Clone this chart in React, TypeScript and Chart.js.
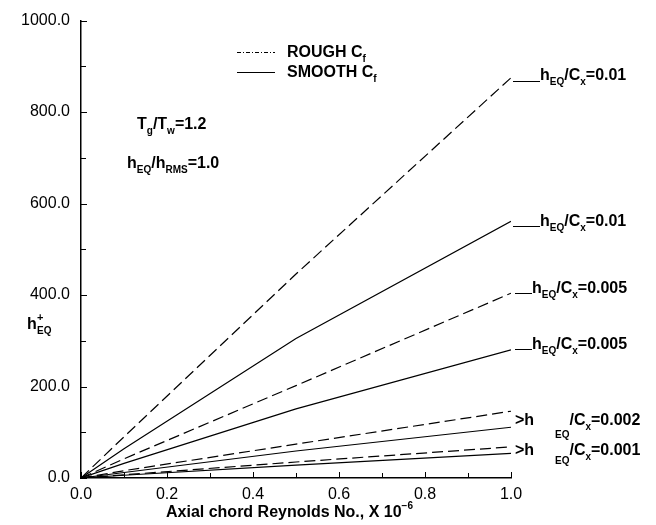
import { useEffect, useRef } from "react";
import { Chart, registerables } from "chart.js";

Chart.register(...registerables);

const FONT = '"Liberation Sans", Arial, Helvetica, sans-serif';

// Axial chord Reynolds number (x 10^-6)
const reynolds = [0, 0.1, 0.5, 1.0];

// Equivalent roughness height h+_EQ, rough vs smooth skin friction
const roughH010 = [0, 90, 446, 875];
const smoothH010 = [0, 64, 305, 561];
const roughH005 = [0, 42, 202, 404];
const smoothH005 = [0, 32, 151, 280];
const roughH002 = [0, 16, 74, 146];
const smoothH002 = [0, 12, 59, 111];
const roughH001 = [0, 7, 35, 68];
const smoothH001 = [0, 6, 28, 54];

const xTickValues = [0, 0.2, 0.4, 0.6, 0.8, 1.0];
const xMinorTicks = [0.1, 0.3, 0.5, 0.7, 0.9];
const yTickValues = [0, 200, 400, 600, 800, 1000];
const yMinorTicks = [100, 300, 500, 700, 900];

const ROUGH_DASH = [11, 5];
const LEGEND_DASH = [4, 2, 1, 2];

type Seg = { t: string; size?: number; dy?: number; x?: number };

function drawRich(ctx: CanvasRenderingContext2D, x: number, y: number, segs: Seg[]) {
  let cx = x;
  for (const s of segs) {
    if (s.x !== undefined) cx = s.x;
    ctx.font = `bold ${s.size ?? 16}px ${FONT}`;
    ctx.fillText(s.t, cx, y + (s.dy ?? 0));
    cx += ctx.measureText(s.t).width;
  }
}

function hEqCx(value: string): Seg[] {
  return [
    { t: "h" },
    { t: "EQ", size: 10, dy: 5 },
    { t: "/C" },
    { t: "x", size: 10, dy: 5 },
    { t: "=" + value },
  ];
}

const annotations = {
  id: "annotations",
  afterDraw(chart: Chart) {
    const ctx = chart.ctx;
    const xs = chart.scales.x;
    const ys = chart.scales.y;
    const left = xs.left;
    const bottom = ys.bottom;

    ctx.save();
    // inward tick marks
    ctx.strokeStyle = "#000";
    ctx.lineWidth = 1;
    ctx.setLineDash([]);
    ctx.beginPath();
    for (const v of xTickValues) {
      const px = Math.round(xs.getPixelForValue(v)) + 0.5;
      ctx.moveTo(px, bottom);
      ctx.lineTo(px, bottom - 6);
    }
    for (const v of xMinorTicks) {
      const px = Math.round(xs.getPixelForValue(v)) + 0.5;
      ctx.moveTo(px, bottom);
      ctx.lineTo(px, bottom - 5);
    }
    for (const v of yTickValues) {
      const py = Math.round(ys.getPixelForValue(v)) + 0.5;
      ctx.moveTo(left, py);
      ctx.lineTo(left + 6, py);
    }
    for (const v of yMinorTicks) {
      const py = Math.round(ys.getPixelForValue(v)) + 0.5;
      ctx.moveTo(left, py);
      ctx.lineTo(left + 5, py);
    }
    ctx.stroke();

    // legend
    ctx.lineWidth = 1;
    ctx.setLineDash(LEGEND_DASH);
    ctx.beginPath();
    ctx.moveTo(237, 52.5);
    ctx.lineTo(275, 52.5);
    ctx.stroke();
    ctx.setLineDash([]);
    ctx.beginPath();
    ctx.moveTo(237, 72.5);
    ctx.lineTo(275, 72.5);
    ctx.stroke();

    ctx.fillStyle = "#000";
    ctx.textAlign = "left";
    ctx.textBaseline = "alphabetic";
    drawRich(ctx, 287, 57, [{ t: "ROUGH C" }, { t: "f", size: 10, dy: 5 }]);
    drawRich(ctx, 287, 77, [{ t: "SMOOTH C" }, { t: "f", size: 10, dy: 5 }]);

    // flow conditions
    drawRich(ctx, 137, 129, [
      { t: "T" },
      { t: "g", size: 10, dy: 5 },
      { t: "/T" },
      { t: "w", size: 10, dy: 5 },
      { t: "=1.2" },
    ]);
    drawRich(ctx, 127, 168, [
      { t: "h" },
      { t: "EQ", size: 10, dy: 5 },
      { t: "/h" },
      { t: "RMS", size: 10, dy: 5 },
      { t: "=1.0" },
    ]);

    // curve labels with leader lines
    ctx.beginPath();
    ctx.moveTo(513, 81.5);
    ctx.lineTo(540, 81.5);
    ctx.moveTo(513, 226.5);
    ctx.lineTo(540, 226.5);
    ctx.moveTo(515, 293.5);
    ctx.lineTo(532, 293.5);
    ctx.moveTo(515, 349.5);
    ctx.lineTo(532, 349.5);
    ctx.stroke();

    drawRich(ctx, 540, 80, hEqCx("0.01"));
    drawRich(ctx, 540, 226, hEqCx("0.01"));
    drawRich(ctx, 532, 293, hEqCx("0.005"));
    drawRich(ctx, 532, 349, hEqCx("0.005"));

    drawRich(ctx, 515, 425, [
      { t: ">h" },
      { t: "EQ", size: 10, dy: 13, x: 555 },
      { t: "/C" },
      { t: "x", size: 10, dy: 5 },
      { t: "=0.002" },
    ]);
    drawRich(ctx, 515, 455, [
      { t: ">h" },
      { t: "EQ", size: 10, dy: 9, x: 555 },
      { t: "/C" },
      { t: "x", size: 10, dy: 5 },
      { t: "=0.001" },
    ]);

    // axis titles
    drawRich(ctx, 27, 329, [{ t: "h" }]);
    drawRich(ctx, 37, 321, [{ t: "+", size: 11 }]);
    drawRich(ctx, 37, 334, [{ t: "EQ", size: 10 }]);

    drawRich(ctx, 166, 517, [
      { t: "Axial chord Reynolds No., X 10" },
      { t: "\u22126", size: 10, dy: -8 },
    ]);
    ctx.restore();
  },
};

function series(data: number[], rough: boolean) {
  return {
    data: reynolds.map((x, i) => ({ x, y: data[i] })),
    borderColor: "#000",
    borderWidth: 1.2,
    borderDash: rough ? ROUGH_DASH : [],
    pointRadius: 0,
    tension: 0,
    fill: false,
  };
}

export default function App() {
  const canvasRef = useRef<HTMLCanvasElement | null>(null);

  useEffect(() => {
    const canvas = canvasRef.current;
    if (!canvas) return;
    const chart = new Chart(canvas, {
      type: "line",
      data: {
        datasets: [
          series(roughH010, true),
          series(smoothH010, false),
          series(roughH005, true),
          series(smoothH005, false),
          series(roughH002, true),
          series(smoothH002, false),
          series(roughH001, true),
          series(smoothH001, false),
        ],
      },
      options: {
        responsive: false,
        animation: false,
        devicePixelRatio: 1,
        layout: { padding: { top: 17, right: 145, left: 0, bottom: 0 } },
        plugins: {
          legend: { display: false },
          tooltip: { enabled: false },
        },
        scales: {
          x: {
            type: "linear",
            min: 0,
            max: 1,
            grid: { display: false, drawTicks: false },
            border: { display: true, color: "#000", width: 1.5 },
            afterBuildTicks: (scale: any) => {
              scale.ticks = xTickValues.map((v) => ({ value: v }));
            },
            afterFit: (scale: any) => {
              scale.height = 47;
            },
            ticks: {
              color: "#000",
              padding: 7,
              maxRotation: 0,
              font: { family: FONT, size: 16 },
              callback: (v: any) => Number(v).toFixed(1),
            },
          },
          y: {
            type: "linear",
            min: 0,
            max: 1000,
            grid: { display: false, drawTicks: false },
            border: { display: true, color: "#000", width: 1.5 },
            afterBuildTicks: (scale: any) => {
              scale.ticks = yTickValues.map((v) => ({ value: v }));
            },
            afterFit: (scale: any) => {
              scale.width = 81;
            },
            ticks: {
              color: "#000",
              padding: 11,
              font: { family: FONT, size: 16 },
              callback: (v: any) => Number(v).toFixed(1),
            },
          },
        },
      },
      plugins: [annotations],
    });
    return () => chart.destroy();
  }, []);

  return (
    <div style={{ position: "fixed", left: 0, top: 0, width: 656, height: 525, background: "#fff" }}>
      <canvas ref={canvasRef} width={656} height={525} style={{ width: 656, height: 525 }} />
    </div>
  );
}
